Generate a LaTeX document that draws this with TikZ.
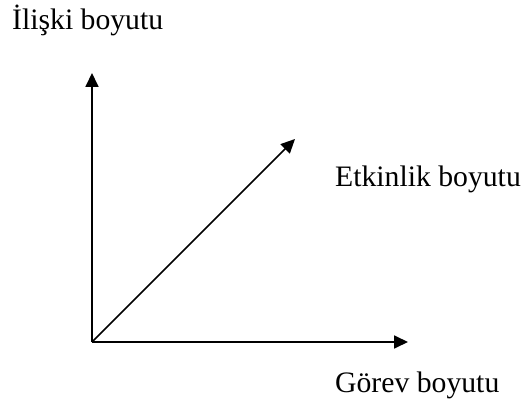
\documentclass[tikz,border=0pt]{standalone}
\usepackage{fontspec}
\setmainfont{Liberation Serif}
\usetikzlibrary{arrows.meta}
\begin{document}
\begin{tikzpicture}[x=1pt,y=-1pt,
  axis/.style={line width=1.8pt,-{Triangle[length=14pt,width=13pt]}},
  lbl/.style={anchor=base west,inner sep=0pt,font=\fontsize{29.7}{34}\selectfont}]
\useasboundingbox (0,0) rectangle (523,404);
\coordinate (o) at (92,342);
\coordinate (ytip) at (92,73);
\coordinate (xtip) at (408,342);
\coordinate (dtip) at (295,139);
\draw[axis] (o) -- (ytip);
\draw[axis] (o) -- (xtip);
\draw[axis,line width=1.6pt] (o) -- (dtip);
\node[lbl] (ly) at (12,30) {İlişki boyutu};
\node[lbl] (ld) at (335,186) {Etkinlik boyutu};
\node[lbl] (lx) at (335,392) {Görev boyutu};
\end{tikzpicture}
\end{document}
